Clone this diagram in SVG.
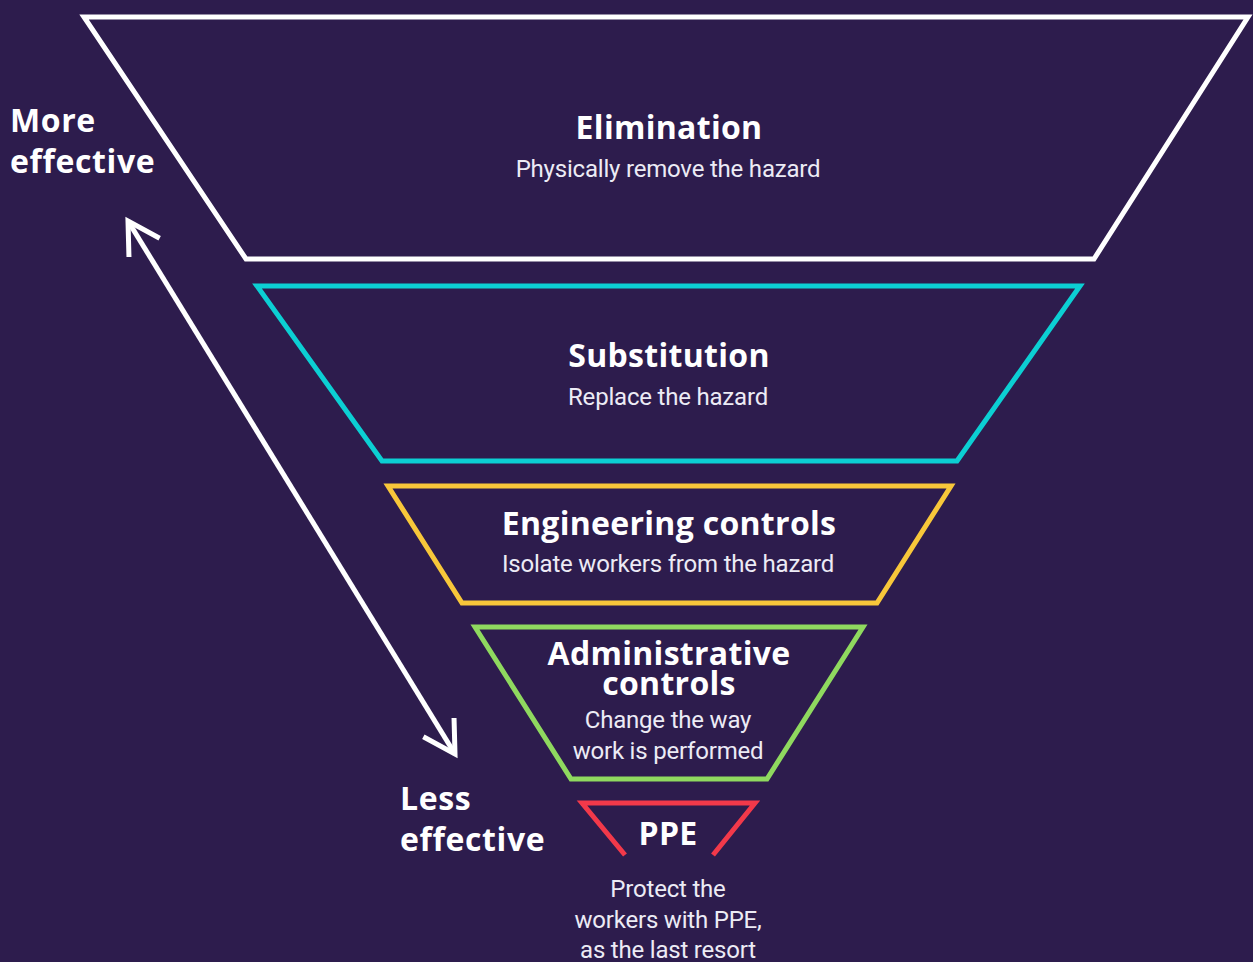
<svg xmlns="http://www.w3.org/2000/svg" width="1253" height="962" viewBox="0 0 1253 962">
  <style>
    .tier { fill: none; stroke-width: 5; stroke-linejoin: miter; }
    .title { font-family: "Open Sans", "Noto Sans", "DejaVu Sans", sans-serif; font-weight: 700; font-size: 32px; fill: #ffffff; text-anchor: middle; letter-spacing: 0.3px; }
    .sub { font-family: Roboto, "Liberation Sans", sans-serif; font-size: 24px; fill: #ecebf5; text-anchor: middle; letter-spacing: -0.2px; }
    .side { font-family: "Open Sans", "Noto Sans", "DejaVu Sans", sans-serif; font-weight: 700; font-size: 32px; fill: #ffffff; letter-spacing: 0.6px; }
    .arrow { fill: none; stroke: #ffffff; stroke-width: 5; }
  </style>
  <defs>
    <marker id="chev" markerUnits="userSpaceOnUse" markerWidth="40" markerHeight="40" refX="0" refY="0" orient="auto-start-reverse" overflow="visible" viewBox="-40 -20 40 40">
      <path d="M -31.2 -18 L 0 0 L -31.2 18" fill="none" stroke="#ffffff" stroke-width="5"/>
    </marker>
  </defs>
  <rect x="0" y="0" width="1253" height="962" fill="#2d1c4d"/>

  <g id="elimination">
    <polygon class="tier" stroke="#ffffff" points="84,17 1248,17 1094,259 246,259"/>
    <text class="title" x="669" y="138.5">Elimination</text>
    <text class="sub" x="668" y="176.5">Physically remove the hazard</text>
  </g>

  <g id="substitution">
    <polygon class="tier" stroke="#0ccfd3" points="257,286 1080,286 957,461 382,461"/>
    <text class="title" x="669" y="366.5">Substitution</text>
    <text class="sub" x="668" y="404.5">Replace the hazard</text>
  </g>

  <g id="engineering">
    <polygon class="tier" stroke="#f8c73a" points="388,486 951,486 877,603 462,603"/>
    <text class="title" x="669" y="534.5">Engineering controls</text>
    <text class="sub" x="668" y="572">Isolate workers from the hazard</text>
  </g>

  <g id="administrative">
    <polygon class="tier" stroke="#8fd95f" points="475,627 863,627 767,779 571,779"/>
    <text class="title" x="669" y="665">Administrative</text>
    <text class="title" x="669" y="695">controls</text>
    <text class="sub" x="668" y="728">Change the way</text>
    <text class="sub" x="668" y="758.5">work is performed</text>
  </g>

  <g id="ppe">
    <polyline class="tier" stroke="#f2394a" points="625,855 582,803 755,803 713,855"/>
    <text class="title" x="668" y="845">PPE</text>
    <text class="sub" x="668" y="897">Protect the</text>
    <text class="sub" x="668" y="927.5">workers with PPE,</text>
    <text class="sub" x="668" y="958">as the last resort</text>
  </g>

  <g id="labels">
    <text class="side" x="10" y="131.5">More</text>
    <text class="side" x="10" y="173">effective</text>
    <text class="side" x="400" y="810">Less</text>
    <text class="side" x="400" y="851">effective</text>
  </g>

  <g id="connectors">
    <line class="arrow" x1="128" y1="221" x2="455" y2="754" marker-start="url(#chev)" marker-end="url(#chev)"/>
  </g>
</svg>
